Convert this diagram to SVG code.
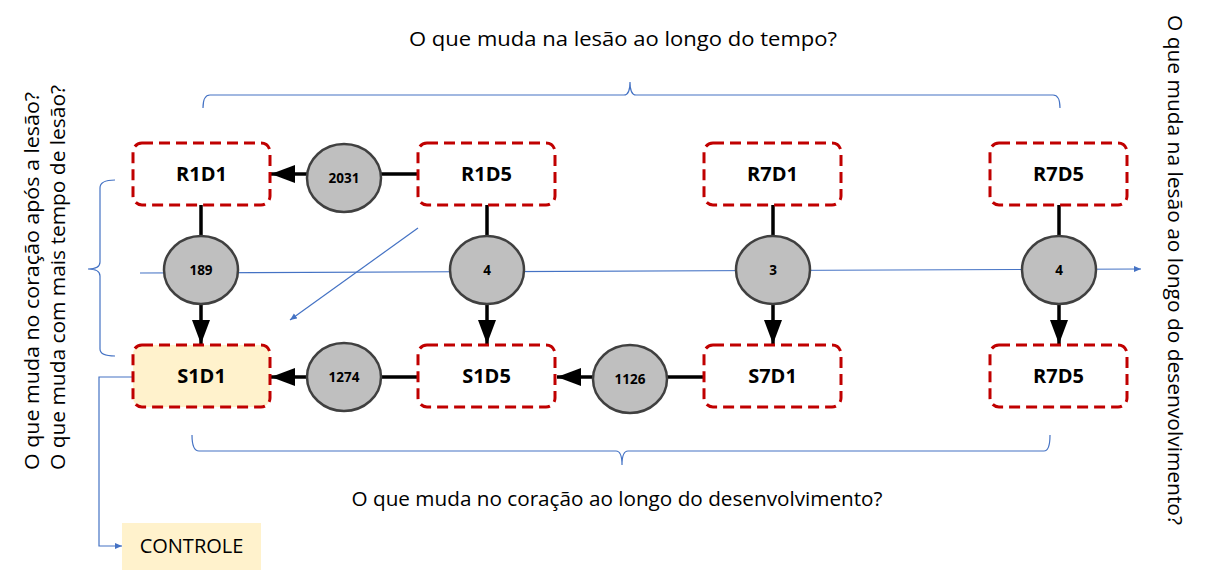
<svg xmlns="http://www.w3.org/2000/svg" width="1217" height="577" viewBox="0 0 1217 577">
<style>
.box{fill:#ffffff;stroke:#C00000;stroke-width:3;stroke-dasharray:11 6}
.ctrl{fill:#FFF2CC;stroke:none}
.circ{fill:#BFBFBF;stroke:#404040;stroke-width:2.5}
.lbl{font-family:"Open Sans","Liberation Sans",sans-serif;font-weight:bold;font-size:20px;fill:#000;text-anchor:middle}
.num{font-family:"Open Sans","Liberation Sans",sans-serif;font-weight:bold;font-size:13.5px;fill:#000;text-anchor:middle}
.q{font-family:"Open Sans","Liberation Sans",sans-serif;font-size:20px;fill:#000}
.blk{stroke:#000;stroke-width:3.5;fill:none}
.blue{stroke:#4472C4;stroke-width:1.2;fill:none}
</style>
<defs>
<marker id="ah" markerUnits="userSpaceOnUse" markerWidth="26" markerHeight="20" refX="24" refY="9" orient="auto">
<path d="M0,0 L24,9 L0,18 z" fill="#000"/>
</marker>
<marker id="bh" markerUnits="userSpaceOnUse" markerWidth="8" markerHeight="8" refX="7" refY="3" orient="auto">
<path d="M0,0 L7,3 L0,6 z" fill="#4472C4"/>
</marker>
</defs>

<g id="texts">
<text class="q" x="623" y="46" text-anchor="middle" textLength="428" lengthAdjust="spacingAndGlyphs">O que muda na lesão ao longo do tempo?</text>
<text class="q" x="617" y="506" text-anchor="middle" textLength="531" lengthAdjust="spacingAndGlyphs">O que muda no coração ao longo do desenvolvimento?</text>
<text class="q" transform="translate(39,470) rotate(-90)" textLength="378" lengthAdjust="spacingAndGlyphs">O que muda no coração após a lesão?</text>
<text class="q" transform="translate(65,470) rotate(-90)" textLength="385" lengthAdjust="spacingAndGlyphs">O que muda com mais tempo de lesão?</text>
<text class="q" transform="translate(1168,15) rotate(90)" textLength="510" lengthAdjust="spacingAndGlyphs">O que muda na lesão ao longo do desenvolvimento?</text>
</g>

<g id="connectors">
<line class="blk" x1="418" y1="174" x2="381" y2="174"/>
<line class="blk" x1="307" y1="174" x2="271" y2="174" marker-end="url(#ah)"/>
<line class="blk" x1="418" y1="377" x2="381" y2="377"/>
<line class="blk" x1="307" y1="377" x2="271" y2="377" marker-end="url(#ah)"/>
<line class="blk" x1="704" y1="377" x2="667" y2="377"/>
<line class="blk" x1="593" y1="377" x2="557" y2="377" marker-end="url(#ah)"/>
<line class="blk" x1="201" y1="205" x2="201" y2="236"/>
<line class="blk" x1="201" y1="304" x2="201" y2="344" marker-end="url(#ah)"/>
<line class="blk" x1="487" y1="205" x2="487" y2="236"/>
<line class="blk" x1="487" y1="304" x2="487" y2="344" marker-end="url(#ah)"/>
<line class="blk" x1="773" y1="205" x2="773" y2="236"/>
<line class="blk" x1="773" y1="304" x2="773" y2="344" marker-end="url(#ah)"/>
<line class="blk" x1="1059" y1="205" x2="1059" y2="236"/>
<line class="blk" x1="1059" y1="304" x2="1059" y2="344" marker-end="url(#ah)"/>
<line class="blue" x1="140" y1="273" x2="1141" y2="269" marker-end="url(#bh)"/>
<line class="blue" x1="418" y1="228" x2="290" y2="320" marker-end="url(#bh)"/>
<path class="blue" d="M133,377 L99,377 L99,546 L122,546" marker-end="url(#bh)"/>
<path class="blue" d="M203,108 Q203,95 210,95 L624,95 Q630,95 630,82 Q630,95 636,95 L1053,95 Q1060,95 1060,108"/>
<path class="blue" d="M192,435 Q192,451 199,451 L616,451 Q622,451 622,465 Q622,451 628,451 L1044,451 Q1050,451 1050,435"/>
<path class="blue" d="M115,180 Q100,180 100,188 L100,262 Q100,269 88,269 Q100,269 100,276 L100,349 Q100,356 115,356"/>
</g>

<g id="R1D1"><rect class="box" x="133" y="143" width="137" height="62" rx="9"/><text class="lbl" x="201.5" y="181">R1D1</text></g>
<g id="R1D5"><rect class="box" x="418" y="143" width="137" height="62" rx="9"/><text class="lbl" x="486.5" y="181">R1D5</text></g>
<g id="R7D1"><rect class="box" x="704" y="143" width="137" height="62" rx="9"/><text class="lbl" x="772.5" y="181">R7D1</text></g>
<g id="R7D5"><rect class="box" x="990" y="143" width="137" height="62" rx="9"/><text class="lbl" x="1058.5" y="181">R7D5</text></g>
<g id="S1D1"><rect class="box" x="133" y="345" width="137" height="62" rx="9" style="fill:#FFF2CC"/><text class="lbl" x="201.5" y="383">S1D1</text></g>
<g id="S1D5"><rect class="box" x="418" y="345" width="137" height="62" rx="9"/><text class="lbl" x="486.5" y="383">S1D5</text></g>
<g id="S7D1"><rect class="box" x="704" y="345" width="137" height="62" rx="9"/><text class="lbl" x="772.5" y="383">S7D1</text></g>
<g id="R7D5b"><rect class="box" x="990" y="345" width="137" height="62" rx="9"/><text class="lbl" x="1058.5" y="383">R7D5</text></g>

<g id="c2031"><ellipse class="circ" cx="344" cy="178" rx="37" ry="34"/><text class="num" x="344" y="183">2031</text></g>
<g id="c1274"><ellipse class="circ" cx="344" cy="377" rx="37" ry="34"/><text class="num" x="344" y="382">1274</text></g>
<g id="c1126"><ellipse class="circ" cx="630" cy="379" rx="37" ry="34"/><text class="num" x="630" y="384">1126</text></g>
<g id="c189"><ellipse class="circ" cx="201" cy="270" rx="37" ry="34"/><text class="num" x="201" y="275">189</text></g>
<g id="c4a"><ellipse class="circ" cx="487" cy="270" rx="37" ry="34"/><text class="num" x="487" y="275">4</text></g>
<g id="c3"><ellipse class="circ" cx="773" cy="270" rx="37" ry="34"/><text class="num" x="773" y="275">3</text></g>
<g id="c4b"><ellipse class="circ" cx="1059" cy="270" rx="37" ry="34"/><text class="num" x="1059" y="275">4</text></g>

<g id="CONTROLE"><rect class="ctrl" x="122" y="523" width="139" height="47"/><text class="q" x="191.5" y="553" text-anchor="middle" font-size="19">CONTROLE</text></g>
</svg>
